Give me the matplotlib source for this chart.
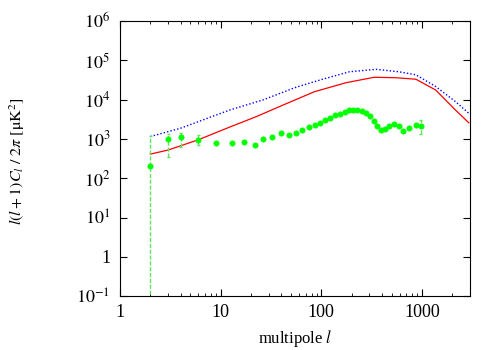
import numpy as np
import matplotlib
matplotlib.use('Agg')
from matplotlib import pyplot as plt
from matplotlib.ticker import FixedLocator, FixedFormatter, LogLocator, NullFormatter

plt.rcParams['font.family'] = ['Liberation Serif', 'DejaVu Serif']
plt.rcParams['mathtext.fontset'] = 'stix'

# Measured band powers
l_data = [2, 3, 4, 6, 9, 13, 17, 22, 26.5, 32.4, 40, 47.5, 55.5, 64.5, 75.5, 86, 97,
          110, 123, 137, 153, 170, 188, 207, 227, 251, 275, 302, 331, 361, 396, 428,
          472, 525, 585, 648, 740, 870, 970]
cl_data = [204, 1010, 1100, 950, 770, 770, 830, 690, 1010, 1120, 1390, 1280, 1440, 1720,
           1970, 2240, 2540, 3020, 3390, 4070, 4370, 4790, 5430, 5500, 5500, 5250, 4650,
           3760, 2850, 2140, 1690, 1790, 2170, 2400, 2140, 1620, 1930, 2240, 2170]
# error bar limits (low, high) for the visible ones
err_l = [2, 3, 4, 6, 970]
err_lo = [0.01, 350, 630, 700, 1320]
err_hi = [1170, 1300, 1380, 1260, 3000]

# Model spectra
l_red = [2, 3, 6, 12.3, 22.5, 41.6, 85, 176, 335, 550, 870, 1370, 2150, 2920]
cl_red = [410, 520, 950, 2000, 3670, 7250, 15800, 26900, 37000, 36000, 33000, 17500, 5430, 2570]
l_blue = [2, 4, 12.3, 26.3, 56, 103, 190, 350, 590, 870, 1370, 2150, 2920]
cl_blue = [1150, 1870, 5430, 9800, 20600, 33000, 51000, 59000, 51000, 42800, 21500, 8900, 4470]

fig = plt.figure(figsize=(5, 3.5), dpi=100)
ax = fig.add_axes([0.24, 0.154, 0.70, 0.786])

ax.plot(l_red, cl_red, color='#ff0000', lw=0.9)
ax.plot(l_blue, cl_blue, color='#0000ff', lw=1.0, linestyle=(0, (1, 1.5)))

# error bars
ebc = '#5ee65e'
for l, lo, hi in zip(err_l, err_lo, err_hi):
    ax.vlines(l, lo, hi, color=ebc, lw=1.0, linestyles=(0, (3, 1.2)))
    w = 1.035
    if lo > 0.1:
        ax.hlines(lo, l / w, l * w, color=ebc, lw=1.0)
    ax.hlines(hi, l / w, l * w, color=ebc, lw=1.0)
ax.plot(l_data, cl_data, 'o', color='#00ff00', ms=3.8, mec='#00ff00', mew=0.5)

ax.set_xscale('log')
ax.set_yscale('log')
ax.set_xlim(1, 3000)
ax.set_ylim(0.1, 1e6)

ax.xaxis.set_major_locator(FixedLocator([1, 10, 100, 1000]))
ax.xaxis.set_major_formatter(FixedFormatter(['1', '10', '100', '1000']))
ax.xaxis.set_minor_locator(LogLocator(base=10, subs=np.arange(2, 10)))
ax.xaxis.set_minor_formatter(NullFormatter())

yt = [0.1, 1, 10, 100, 1e3, 1e4, 1e5, 1e6]
ax.yaxis.set_major_locator(FixedLocator(yt))
ax.yaxis.set_major_formatter(FixedFormatter([r'$10^{-1}$', '1', r'$10^{1}$', r'$10^{2}$',
                                             r'$10^{3}$', r'$10^{4}$', r'$10^{5}$', r'$10^{6}$']))
ax.yaxis.set_minor_locator(FixedLocator([]))

ax.tick_params(which='both', direction='in', top=True, right=True, labelsize=13, colors='black')
ax.tick_params(which='major', length=5, width=0.8)
ax.tick_params(axis='x', which='major', pad=6)
ax.tick_params(axis='y', which='major', pad=7)
ax.tick_params(which='minor', length=2.5, width=0.6)
for s in ax.spines.values():
    s.set_linewidth(0.8)

ax.set_xlabel(r'multipole $l$', fontsize=12, labelpad=5)
ax.set_ylabel(r'$l(l+1)C_l\ /\ 2\pi\ [\mathrm{\mu K}^2]$', fontsize=11.5)
ax.yaxis.set_label_coords(-0.265, 0.49)

plt.savefig('out.png', dpi=100)
